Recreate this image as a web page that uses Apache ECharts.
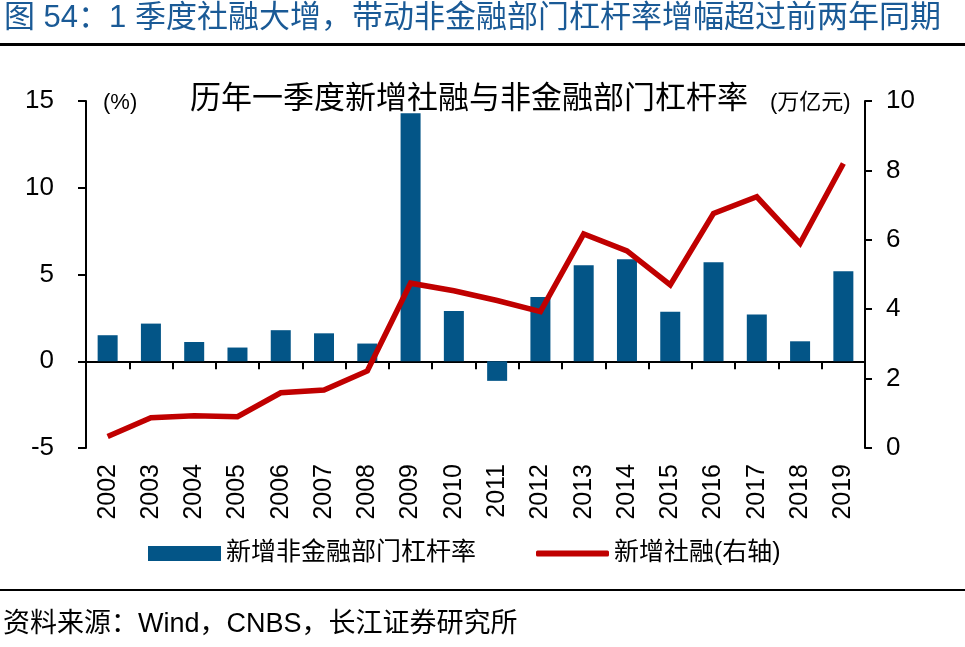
<!DOCTYPE html>
<html><head><meta charset="utf-8">
<script src="https://cdn.jsdelivr.net/npm/echarts@6/dist/echarts.min.js"></script>
<style>html,body{margin:0;padding:0;background:#fff}#c{width:965px;height:647px}</style>
</head><body><div id="c"></div>
<script>
const years = ['2002','2003','2004','2005','2006','2007','2008','2009','2010','2011','2012','2013','2014','2015','2016','2017','2018','2019'];
const leverageIncrease = [1.5,2.17,1.11,0.79,1.79,1.61,1.02,14.3,2.9,-1.13,3.7,5.53,5.88,2.86,5.7,2.69,1.15,5.19];
const newTSF = [0.33,0.87,0.93,0.9,1.59,1.67,2.22,4.75,4.53,4.25,3.93,6.17,5.68,4.7,6.76,7.24,5.9,8.2];
const leftTicks = {min:-5,max:15,interval:5};
const rightTicks = {min:0,max:10,interval:2};
const barName = '新增非金融部门杠杆率';
const lineName = '新增社融(右轴)';
const chartTitle = '历年一季度新增社融与非金融部门杠杆率';
const headerText = '图 54：1 季度社融大增，带动非金融部门杠杆率增幅超过前两年同期';
const sourceText = '资料来源：Wind，CNBS，长江证券研究所';

const FF = "'Liberation Sans','Noto Sans CJK SC',sans-serif";
const chart = echarts.init(document.getElementById('c'));
chart.setOption({
  animation:false,
  backgroundColor:'#fff',
  textStyle:{fontFamily:FF,color:'#000'},
  grid:{left:86,right:100,top:101,bottom:199},
  legend:[
    {left:143, top:536, itemWidth:73, itemHeight:15,
     textStyle:{fontSize:25,color:'#000',fontFamily:FF},
     data:[{name:barName,icon:'rect'}]},
    {left:531, top:536, itemWidth:73, itemHeight:6,
     textStyle:{fontSize:25,color:'#000',fontFamily:FF},
     data:[{name:lineName,icon:'roundRect'}]}
  ],
  graphic:[
    {type:'text',left:4,top:3,style:{text:headerText,fontSize:31,fill:'#1a5a96',fontFamily:FF}},
    {type:'rect',shape:{x:0,y:43,width:965,height:3},style:{fill:'#000'}},
    {type:'rect',shape:{x:0,y:589,width:965,height:2},style:{fill:'#000'}},
    {type:'text',left:3,top:611,style:{text:sourceText,fontSize:27,fill:'#000',fontFamily:FF}},
    {type:'text',left:190,top:84,style:{text:chartTitle,fontSize:31,fill:'#000',fontFamily:FF}},
    {type:'text',left:103,top:92,style:{text:'(%)',fontSize:22,fill:'#000',fontFamily:FF}},
    {type:'text',left:770,top:92,style:{text:'(万亿元)',fontSize:22,fill:'#000',fontFamily:FF}}
  ],
  xAxis:[
    {type:'category',data:years,boundaryGap:true,
     axisLine:{onZero:true,lineStyle:{color:'#000',width:2}},
     axisTick:{show:true,length:8,lineStyle:{color:'#000',width:2}},
     axisLabel:{show:false}},
    {type:'category',data:years,position:'bottom',boundaryGap:true,
     axisLine:{show:false,onZero:false},axisTick:{show:false},
     axisLabel:{rotate:90,fontSize:25,color:'#000',margin:16,fontFamily:FF}}
  ],
  yAxis:[
    {type:'value',min:leftTicks.min,max:leftTicks.max,interval:leftTicks.interval,position:'left',
     splitLine:{show:false},
     axisLine:{show:true,lineStyle:{color:'#000',width:2}},
     axisTick:{show:true,length:8,lineStyle:{color:'#000',width:2}},
     axisLabel:{fontSize:26,color:'#000',margin:32,fontFamily:FF}},
    {type:'value',min:rightTicks.min,max:rightTicks.max,interval:rightTicks.interval,position:'right',
     splitLine:{show:false},
     axisLine:{show:true,lineStyle:{color:'#000',width:2}},
     axisTick:{show:true,length:7,lineStyle:{color:'#000',width:2}},
     axisLabel:{fontSize:26,color:'#000',margin:21,fontFamily:FF}}
  ],
  series:[
    {name:barName,type:'bar',data:leverageIncrease,xAxisIndex:0,yAxisIndex:0,barWidth:20,
     itemStyle:{color:'#035587'}},
    {name:lineName,type:'line',data:newTSF,xAxisIndex:0,yAxisIndex:1,symbol:'none',
     lineStyle:{color:'#c00000',width:5.5,join:'miter'},itemStyle:{color:'#c00000'}}
  ]
});
</script></body></html>
